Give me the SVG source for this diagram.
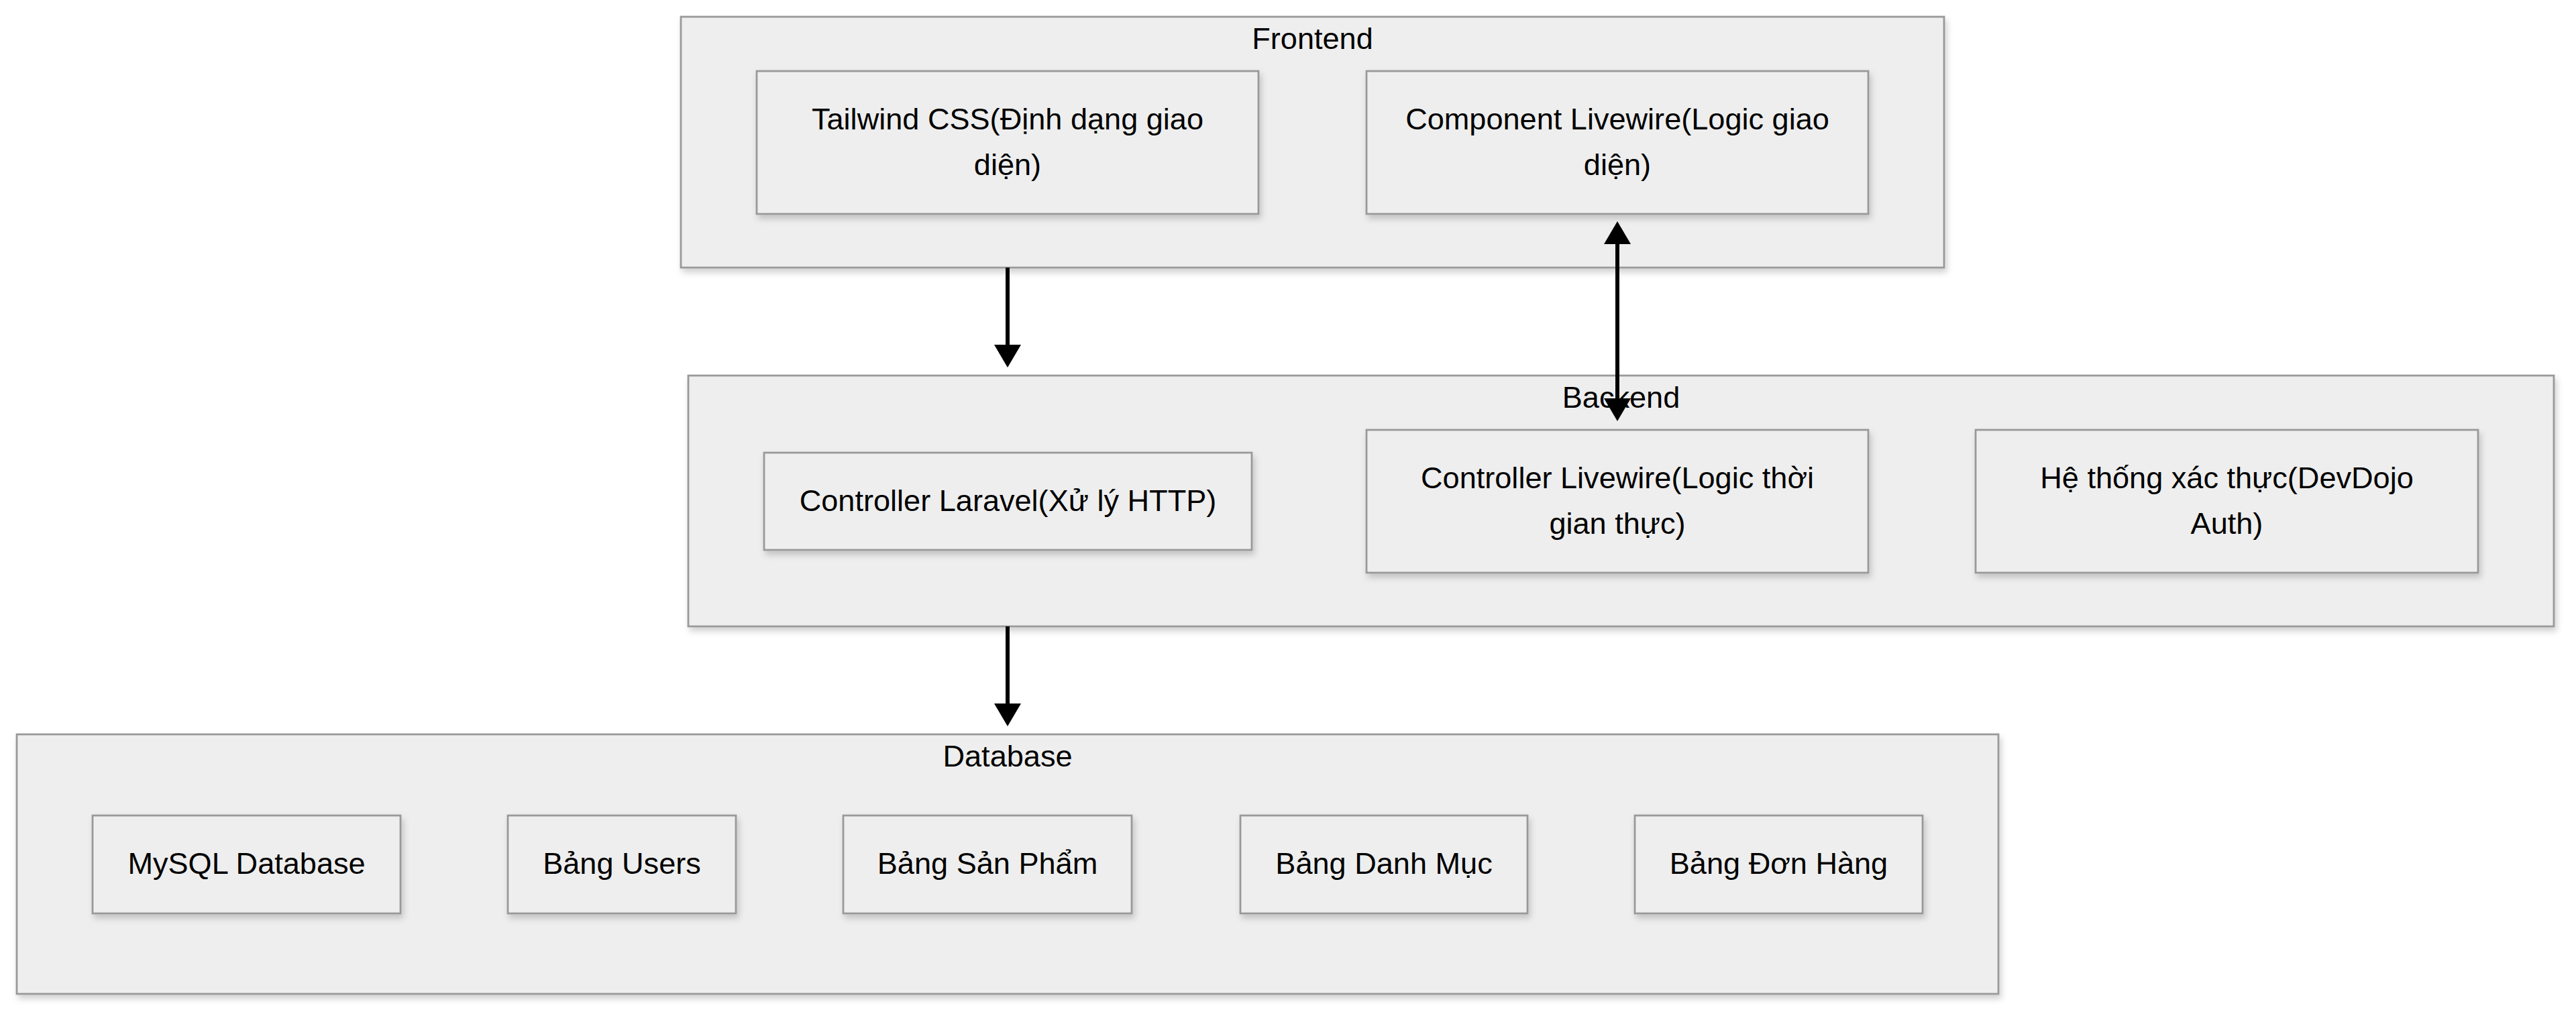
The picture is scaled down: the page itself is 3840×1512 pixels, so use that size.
<svg xmlns="http://www.w3.org/2000/svg" width="3840" height="1512" viewBox="0 0 3840 1512">
  <style>
    .cluster { fill: #eeeeee; stroke: #999999; stroke-width: 2.8; }
    .node { fill: #eeeeee; stroke: #999999; stroke-width: 2.8; }
    .lbl { font-family: "Liberation Sans", Arial, sans-serif; font-size: 45.1px; fill: #000000; text-anchor: middle; }
    .edge { stroke: #000000; stroke-width: 6; fill: none; }
  </style>
  <defs>
    <filter id="shadow" x="-5%" y="-10%" width="115%" height="130%">
      <feDropShadow dx="3" dy="6" stdDeviation="5" flood-color="#000000" flood-opacity="0.18"/>
    </filter>
    <marker id="arrow" viewBox="0 0 34 40" refX="0" refY="20" markerWidth="34" markerHeight="40" markerUnits="userSpaceOnUse" orient="auto-start-reverse">
      <path d="M0,0 L34,20 L0,40 Z" fill="#000000"/>
    </marker>
  </defs>
  <rect width="3840" height="1512" fill="#ffffff"/>

  <g id="cluster-frontend">
    <rect class="cluster" x="1015" y="25" width="1883" height="374" filter="url(#shadow)"/>
    <text class="lbl" x="1956.5" y="73">Frontend</text>
  </g>
  <g id="cluster-backend">
    <rect class="cluster" x="1026" y="560" width="2781" height="374" filter="url(#shadow)"/>
    <text class="lbl" x="2416.5" y="608">Backend</text>
  </g>
  <g id="cluster-database">
    <rect class="cluster" x="25" y="1095" width="2954" height="387" filter="url(#shadow)"/>
    <text class="lbl" x="1502" y="1143">Database</text>
  </g>

  <g id="node-tailwind">
    <rect class="node" x="1128" y="106" width="748" height="213" filter="url(#shadow)"/>
    <text class="lbl" x="1502" y="193">Tailwind CSS(Định dạng giao</text>
    <text class="lbl" x="1502" y="261">diện)</text>
  </g>
  <g id="node-component-livewire">
    <rect class="node" x="2037" y="106" width="748" height="213" filter="url(#shadow)"/>
    <text class="lbl" x="2411" y="193">Component Livewire(Logic giao</text>
    <text class="lbl" x="2411" y="261">diện)</text>
  </g>

  <g id="node-controller-laravel">
    <rect class="node" x="1139" y="675" width="727" height="145" filter="url(#shadow)"/>
    <text class="lbl" x="1502.5" y="762">Controller Laravel(Xử lý HTTP)</text>
  </g>
  <g id="node-controller-livewire">
    <rect class="node" x="2037" y="641" width="748" height="213" filter="url(#shadow)"/>
    <text class="lbl" x="2411" y="728">Controller Livewire(Logic thời</text>
    <text class="lbl" x="2411" y="796">gian thực)</text>
  </g>
  <g id="node-auth">
    <rect class="node" x="2945" y="641" width="749" height="213" filter="url(#shadow)"/>
    <text class="lbl" x="3319.5" y="728">Hệ thống xác thực(DevDojo</text>
    <text class="lbl" x="3319.5" y="796">Auth)</text>
  </g>

  <g id="node-mysql">
    <rect class="node" x="138" y="1216" width="459" height="146" filter="url(#shadow)"/>
    <text class="lbl" x="367.5" y="1303">MySQL Database</text>
  </g>
  <g id="node-users">
    <rect class="node" x="757" y="1216" width="340" height="146" filter="url(#shadow)"/>
    <text class="lbl" x="927" y="1303">Bảng Users</text>
  </g>
  <g id="node-sanpham">
    <rect class="node" x="1257" y="1216" width="430" height="146" filter="url(#shadow)"/>
    <text class="lbl" x="1472" y="1303">Bảng Sản Phẩm</text>
  </g>
  <g id="node-danhmuc">
    <rect class="node" x="1849" y="1216" width="428" height="146" filter="url(#shadow)"/>
    <text class="lbl" x="2063" y="1303">Bảng Danh Mục</text>
  </g>
  <g id="node-donhang">
    <rect class="node" x="2437" y="1216" width="429" height="146" filter="url(#shadow)"/>
    <text class="lbl" x="2651.5" y="1303">Bảng Đơn Hàng</text>
  </g>

  <g id="connectors">
    <line class="edge" x1="1502" y1="399" x2="1502" y2="514" marker-end="url(#arrow)"/>
    <line class="edge" x1="2411" y1="364" x2="2411" y2="594" marker-start="url(#arrow)" marker-end="url(#arrow)"/>
    <line class="edge" x1="1502" y1="934" x2="1502" y2="1049" marker-end="url(#arrow)"/>
  </g>
</svg>
